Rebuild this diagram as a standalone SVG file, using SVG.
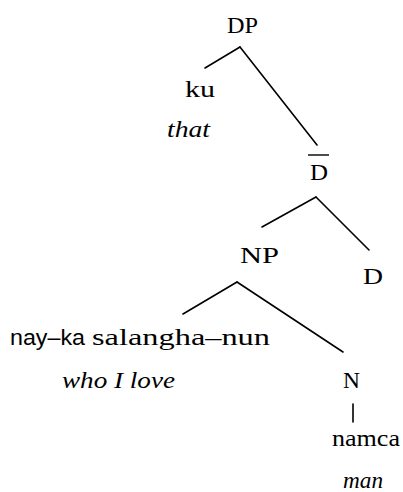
<svg xmlns="http://www.w3.org/2000/svg" width="403" height="492" viewBox="0 0 403 492">
<rect width="403" height="492" fill="#fff"/>
<g id="edges" stroke="#000" stroke-width="1.6" fill="none" stroke-linecap="round">
<line x1="240" y1="47" x2="205" y2="68"/>
<line x1="240" y1="47" x2="317" y2="145"/>
<line x1="316" y1="197" x2="262" y2="227"/>
<line x1="316" y1="197" x2="369" y2="250"/>
<line x1="237" y1="282" x2="183" y2="314"/>
<line x1="237" y1="282" x2="343" y2="352"/>
<line x1="353" y1="404" x2="353" y2="422"/>
</g>
<g id="DP"><text x="227" y="33" font-family="Liberation Serif" font-size="24" textLength="31" lengthAdjust="spacingAndGlyphs">DP</text></g>
<g id="ku"><text x="185" y="97" font-family="Liberation Serif" font-size="24" textLength="30" lengthAdjust="spacingAndGlyphs">ku</text>
<text x="167" y="137" font-family="Liberation Serif" font-style="italic" font-size="23" textLength="43" lengthAdjust="spacingAndGlyphs">that</text></g>
<g id="Dbar"><line x1="308" y1="155" x2="329" y2="155" stroke="#000" stroke-width="1.4"/>
<text x="310" y="180" font-family="Liberation Serif" font-size="24" textLength="18" lengthAdjust="spacingAndGlyphs">D</text></g>
<g id="NP"><text x="240" y="263" font-family="Liberation Serif" font-size="24" textLength="39" lengthAdjust="spacingAndGlyphs">NP</text></g>
<g id="D"><text x="363" y="284" font-family="Liberation Serif" font-size="24" textLength="20" lengthAdjust="spacingAndGlyphs">D</text></g>
<g id="clause"><text x="10" y="345" font-family="Liberation Sans" font-size="22" textLength="75" lengthAdjust="spacingAndGlyphs">nay&#8211;ka</text>
<text x="92" y="345" font-family="Liberation Serif" font-size="24" textLength="178" lengthAdjust="spacingAndGlyphs">salangha&#8211;nun</text>
<text x="62" y="388" font-family="Liberation Serif" font-style="italic" font-size="23" textLength="113" lengthAdjust="spacingAndGlyphs">who I love</text></g>
<g id="N"><text x="343" y="388" font-family="Liberation Serif" font-size="24" textLength="17" lengthAdjust="spacingAndGlyphs">N</text></g>
<g id="namca"><text x="332" y="446" font-family="Liberation Serif" font-size="24" textLength="68" lengthAdjust="spacingAndGlyphs">namca</text>
<text x="343" y="488" font-family="Liberation Serif" font-style="italic" font-size="23" textLength="40" lengthAdjust="spacingAndGlyphs">man</text></g>
</svg>
